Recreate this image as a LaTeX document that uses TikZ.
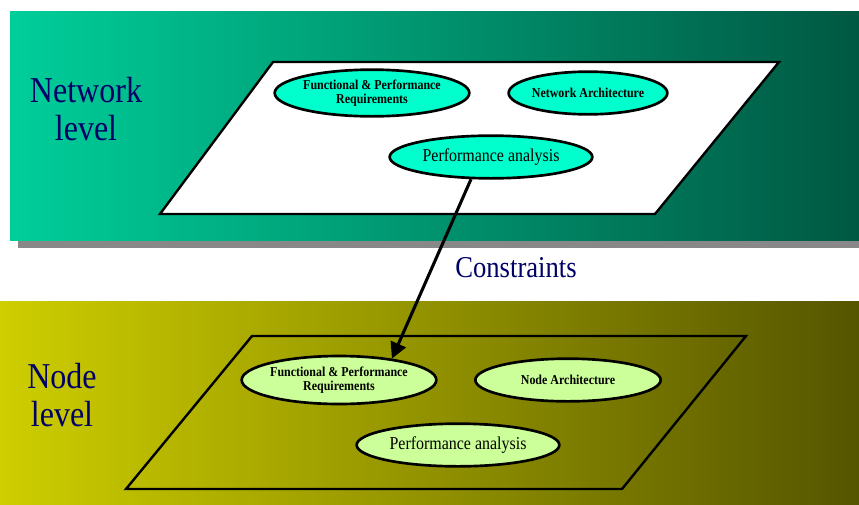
\documentclass[tikz,border=0pt]{standalone}
\usepackage{fontspec}
\setmainfont[FakeStretch=0.88]{Liberation Serif}
\usetikzlibrary{shapes.geometric,arrows.meta}
\definecolor{navy}{RGB}{0,0,102}
\definecolor{teallight}{RGB}{0,206,154}
\definecolor{tealmid}{RGB}{0,168,126}
\definecolor{tealdark}{RGB}{0,88,66}
\definecolor{olivelight}{RGB}{206,206,0}
\definecolor{olivemid}{RGB}{150,150,0}
\definecolor{olivedark}{RGB}{85,85,0}
\definecolor{aqua}{RGB}{0,255,204}
\definecolor{palegreen}{RGB}{204,255,153}
\definecolor{shadowgray}{RGB}{136,136,136}
\begin{document}
\begin{tikzpicture}[x=0.75pt,y=-0.75pt,
  task/.style={ellipse,draw,line width=2pt,inner sep=0pt,align=center,
    font=\fontsize{10.2}{11}\selectfont\bfseries},
  study/.style={task,font=\fontsize{13.6}{15}\selectfont},
  level/.style={text=navy,align=center,font=\fontsize{27.3}{28.5}\selectfont},
  plane/.style={line width=1.8pt}]
  \useasboundingbox (0,0) rectangle (859,504);

  \fill[shadowgray] (18,20) rectangle (859,248);
  \shade[left color=teallight,middle color=tealmid,right color=tealdark] (10,11) rectangle (859,240);
  \draw[plane,fill=white] (273,62) -- (779,62) -- (655,214) -- (160,214) -- cycle;
  \node[level] (net) at (86,109) {Network\\level};
  \node[task,fill=aqua,minimum width=146pt,minimum height=35pt] (fpr1) at (372,93) {Functional \& Performance\\Requirements};
  \node[task,fill=aqua,minimum width=118pt,minimum height=32pt] (arch1) at (588,93) {Network Architecture};
  \node[study,fill=aqua,minimum width=152pt,minimum height=32pt] (perf1) at (491,157) {Performance analysis};

  \shade[left color=olivelight,middle color=olivemid,right color=olivedark] (0,301) rectangle (859,504);
  \draw[plane] (252,336) -- (746,336) -- (622,489) -- (126,489) -- cycle;
  \node[level] (nod) at (62,395) {Node\\level};
  \node[task,fill=palegreen,minimum width=146pt,minimum height=36pt] (fpr2) at (339,380) {Functional \& Performance\\Requirements};
  \node[task,fill=palegreen,minimum width=139pt,minimum height=32pt] (arch2) at (568,380) {Node Architecture};
  \node[study,fill=palegreen,minimum width=152pt,minimum height=32pt] (perf2) at (458,445) {Performance analysis};

  \node[text=navy,font=\fontsize{22.7}{24}\selectfont] (con) at (516,268) {Constraints};
  \draw[line width=2.3pt,-{Triangle[length=12pt,width=12pt]}] (perf1.228) -- (fpr2.22);
\end{tikzpicture}
\end{document}
